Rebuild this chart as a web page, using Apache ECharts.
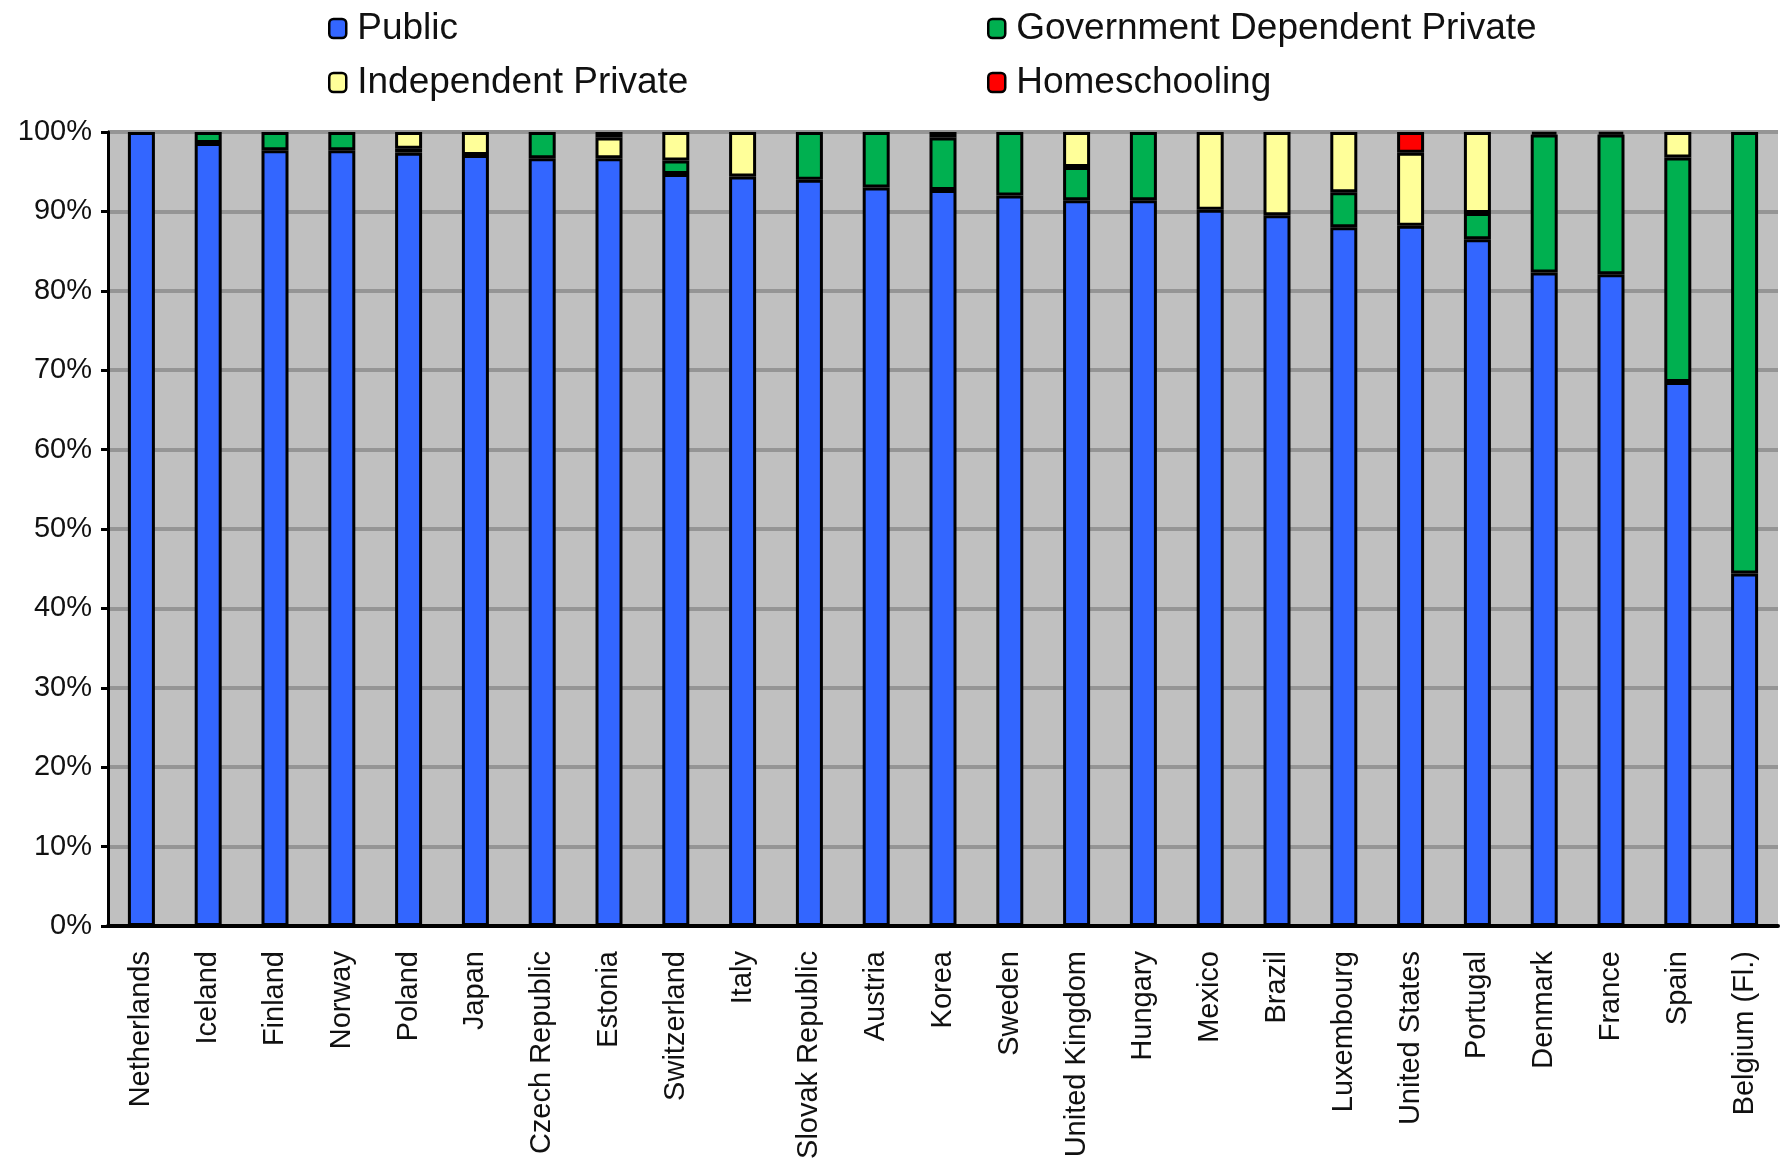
<!DOCTYPE html>
<html>
<head>
<meta charset="utf-8">
<title>School sector shares</title>
<script src="https://cdn.jsdelivr.net/npm/echarts@6.0.0/dist/echarts.min.js"></script>
<style>
  html, body { margin: 0; padding: 0; background: #fff; }
  #chart { width: 1785px; height: 1164px; }
</style>
</head>
<body>
<div id="chart"></div>
<script>
// Share of students by school type, per country (percent)
var countries = ['Netherlands', 'Iceland', 'Finland', 'Norway', 'Poland', 'Japan', 'Czech Republic',
  'Estonia', 'Switzerland', 'Italy', 'Slovak Republic', 'Austria', 'Korea', 'Sweden', 'United Kingdom',
  'Hungary', 'Mexico', 'Brazil', 'Luxembourg', 'United States', 'Portugal', 'Denmark', 'France',
  'Spain', 'Belgium (Fl.)'];

var publicShare = [100, 98.6, 97.7, 97.7, 97.4, 97.1, 96.7, 96.7, 94.7, 94.4, 94.0, 93.0, 92.7, 92.0,
  91.4, 91.4, 90.2, 89.5, 88.0, 88.2, 86.5, 82.3, 82.1, 68.5, 44.4];
var govDependent = [0, 1.4, 2.3, 2.3, 0.5, 0, 3.3, 0, 1.7, 0, 6.0, 7.0, 6.6, 8.0,
  4.2, 8.6, 0, 0, 4.4, 0, 3.3, 17.4, 17.6, 28.3, 55.6];
var independent = [0, 0, 0, 0, 2.1, 2.9, 0, 2.6, 3.6, 5.6, 0, 0, 0.7, 0,
  4.4, 0, 9.8, 10.5, 7.6, 9.2, 10.2, 0.3, 0.3, 3.2, 0];
var homeschool = [0, 0, 0, 0, 0, 0, 0, 0.7, 0, 0, 0, 0, 0, 0,
  0, 0, 0, 0, 0, 2.6, 0, 0, 0, 0, 0];

var yTicks = [0, 10, 20, 30, 40, 50, 60, 70, 80, 90, 100];

var seriesNames = ['Public', 'Government Dependent Private', 'Independent Private', 'Homeschooling'];
var seriesColors = ['#3366ff', '#00b050', '#ffff99', '#ff0000'];
var seriesValues = [publicShare, govDependent, independent, homeschool];

var font = '"Liberation Sans", Arial, sans-serif';

var chart = echarts.init(document.getElementById('chart'), null, { renderer: 'canvas' });

// one legend block per item so they sit in a 2x2 layout like the original
var legendPos = [
  { left: 328, top: 10 },
  { left: 987, top: 10 },
  { left: 328, top: 64 },
  { left: 987, top: 64 }
];
var legends = seriesNames.map(function (name, i) {
  return {
    data: [name],
    left: legendPos[i].left,
    top: legendPos[i].top,
    icon: 'roundRect',
    itemWidth: 17,
    itemHeight: 19,
    itemGap: 0,
    padding: 0,
    selectedMode: false,
    itemStyle: { borderColor: '#000', borderWidth: 2.5 },
    textStyle: { fontFamily: font, fontSize: 37, color: '#111', padding: [0, 0, 0, 6] }
  };
});

var series = seriesNames.map(function (name, i) {
  return {
    name: name,
    type: 'bar',
    stack: 'total',
    barWidth: 27,
    itemStyle: { color: seriesColors[i], borderColor: '#000', borderWidth: 3 },
    data: seriesValues[i].map(function (v) { return v === 0 ? '-' : v; })
  };
});

var option = {
  backgroundColor: '#fff',
  animation: false,
  legend: legends,
  grid: {
    left: 108,
    right: 7,
    top: 132,
    bottom: 238,
    outerBoundsMode: 'none',
    containLabel: false,
    show: true,
    backgroundColor: '#c0c0c0',
    borderWidth: 0
  },
  xAxis: {
    type: 'category',
    data: countries,
    axisLine: { show: true, lineStyle: { color: '#000', width: 4 } },
    axisTick: { show: false },
    axisLabel: {
      rotate: 90,
      interval: 0,
      margin: 25,
      fontFamily: font,
      fontSize: 29,
      color: '#111'
    }
  },
  yAxis: {
    type: 'value',
    min: yTicks[0],
    max: yTicks[yTicks.length - 1],
    interval: 10,
    axisLine: { show: true, lineStyle: { color: '#000', width: 3 } },
    axisTick: { show: true, length: 7, lineStyle: { color: '#000', width: 3 } },
    splitLine: { show: true, lineStyle: { color: '#959595', width: 4 } },
    axisLabel: {
      margin: 16,
      fontFamily: font,
      fontSize: 29,
      color: '#111',
      formatter: '{value}%'
    }
  },
  series: series
};

chart.setOption(option);
</script>
</body>
</html>
